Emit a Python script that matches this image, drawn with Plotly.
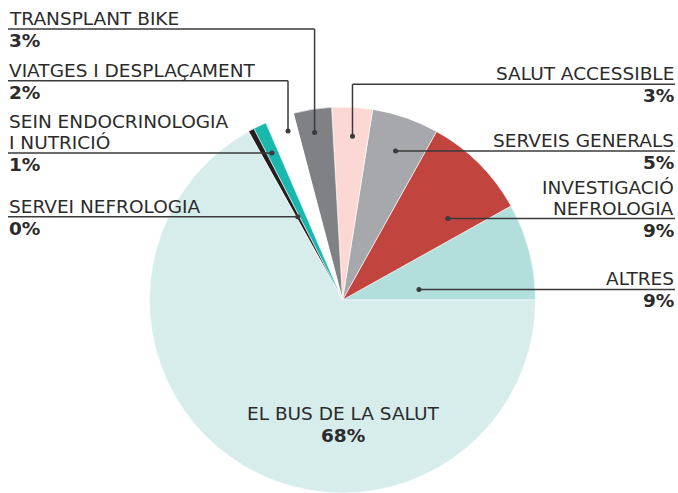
import math
import plotly.graph_objects as go

W, H = 678, 493

# ---- data (counter-clockwise from 3 o'clock) ----
names = ["ALTRES", "INVESTIGACIÓ NEFROLOGIA", "SERVEIS GENERALS", "SALUT ACCESSIBLE",
         "TRANSPLANT BIKE", "VIATGES I DESPLAÇAMENT", "SEIN ENDOCRINOLOGIA I NUTRICIÓ",
         "SERVEI NEFROLOGIA", "EL BUS DE LA SALUT"]
values = [8.1, 8.8, 5.6, 3.4, 3.2, 2.4, 1.1, 0.5, 66.9]
pct_labels = ["9%", "9%", "5%", "3%", "3%", "2%", "1%", "0%", "68%"]
label_lines = [["ALTRES"], ["INVESTIGACIÓ", "NEFROLOGIA"], ["SERVEIS GENERALS"],
               ["SALUT ACCESSIBLE"], ["TRANSPLANT BIKE"], ["VIATGES I DESPLAÇAMENT"],
               ["SEIN ENDOCRINOLOGIA", "I NUTRICIÓ"], ["SERVEI NEFROLOGIA"],
               ["EL BUS DE LA SALUT"]]
colors = ["#b2dfdc", "#c1443f", "#a7a8ac", "#fcd8d4", "#808184", "#ffffff",
          "#18b8ae", "#231f20", "#d6edeb"]

# ---- layout / style for leader lines ----
# (side, kind, frac within slice, radius frac, elbow line y in px for 'v')
leader = [
    ("R", "h", 0.27, 0.40, None),
    ("R", "h", 0.27, 0.69, None),
    ("R", "h", 0.475, 0.82, None),
    ("R", "v", 0.45, 0.85, 84.3),
    ("L", "v", 0.54, 0.88, 29.0),
    ("L", "v", 0.36, 0.92, 80.7),
    ("L", "h", 0.56, 0.845, None),
    ("L", "h", 0.5, 0.49, None),
    None,
]

FONT = "DejaVu Sans"
FS = 18.5
TXT = "#2b2b2b"
LINE = "#3a3a3a"
LEFT_X, RIGHT_X = 8, 675

dom_x = [148.5 / W, 536.5 / W]
dom_y = [0.0, 386 / H]
cx = (dom_x[0] + dom_x[1]) / 2 * W
cy = H - (dom_y[0] + dom_y[1]) / 2 * H
R = min((dom_x[1] - dom_x[0]) * W, (dom_y[1] - dom_y[0]) * H) / 2

total = sum(values)
# plotly places the first counter-clockwise slice so that it ends at `rotation`
rotation = 90 - 360 * values[0] / total

fig = go.Figure(go.Pie(
    values=values, labels=names, sort=False, direction="counterclockwise",
    rotation=rotation, marker=dict(colors=colors, line=dict(color="#ffffff", width=0.6)),
    textinfo="none", hoverinfo="label+percent", showlegend=False,
    domain=dict(x=dom_x, y=dom_y),
))

def px(x):
    return x / W

def py(y):
    return 1 - y / H

shapes, annots = [], []

def add_text(x, y, text, anchor, bold=False):
    annots.append(dict(x=px(x), y=py(y), xref="paper", yref="paper", text=text,
                       showarrow=False, xanchor=anchor, yanchor="middle",
                       font=dict(family=FONT, size=FS, color=TXT,
                                 weight=700 if bold else 400)))

def add_line(x0, y0, x1, y1):
    shapes.append(dict(type="line", xref="paper", yref="paper", x0=px(x0), y0=py(y0),
                       x1=px(x1), y1=py(y1), line=dict(color=LINE, width=1.5),
                       layer="above"))

cum = 0.0
for i, v in enumerate(values):
    start = 360 * cum / total
    span = 360 * v / total
    cum += v
    spec = leader[i]
    if spec is None:
        continue
    side, kind, f, rf, ly = spec
    a = math.radians(start + f * span)
    dx = cx + rf * R * math.cos(a)
    dy = cy - rf * R * math.sin(a)
    edge = LEFT_X if side == "L" else RIGHT_X
    if kind == "h":
        line_y = dy
        add_line(dx, dy, edge, dy)
    else:
        line_y = ly
        add_line(dx, dy, dx, ly)
        add_line(dx, ly, edge, ly)
    shapes.append(dict(type="circle", xref="paper", yref="paper",
                       x0=px(dx - 2.5), x1=px(dx + 2.5), y0=py(dy - 2.5), y1=py(dy + 2.5),
                       fillcolor=LINE, line=dict(width=0), layer="above"))
    anchor = "left" if side == "L" else "right"
    tx = edge - 1 if side == "L" else edge + 1
    lines = label_lines[i]
    n = len(lines)
    for k, t in enumerate(lines):
        add_text(tx, line_y - 10.5 - (n - 1 - k) * 20.5, t, anchor)
    add_text(tx, line_y + 11.5, pct_labels[i], anchor, bold=True)

# central label
add_text(cx, 413.5, label_lines[8][0], "center")
add_text(cx, 435, pct_labels[8], "center", bold=True)

fig.update_layout(width=W, height=H, margin=dict(l=0, r=0, t=0, b=0),
                  paper_bgcolor="#ffffff", plot_bgcolor="#ffffff",
                  shapes=shapes, annotations=annots)
fig.write_html("out.html")
